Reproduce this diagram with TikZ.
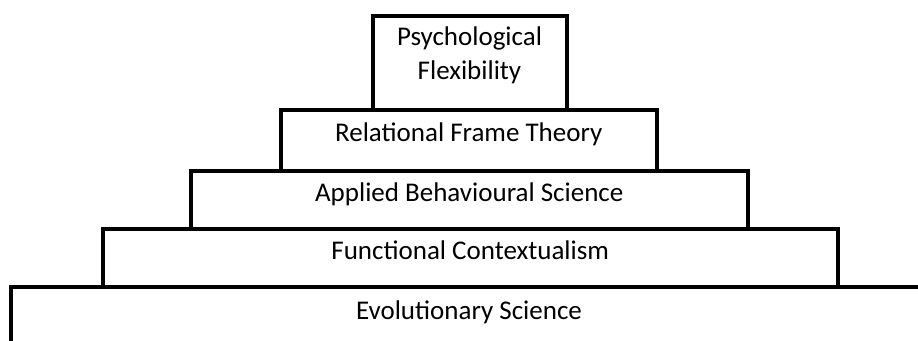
\documentclass[tikz,border=0pt]{standalone}
\usepackage{fontspec}
\setmainfont{Carlito}
\begin{document}
\begin{tikzpicture}[x=1pt,y=-1pt,
  tier/.style={draw=black, line width=4pt, rectangle, inner sep=0pt, outer sep=0pt, anchor=north west},
  lbl/.style={font=\fontsize{27}{33.3}\selectfont, align=center, inner sep=0pt, anchor=base}]
  \useasboundingbox (0,0) rectangle (918,340);
  \clip (0,0) rectangle (918,340);
  % stacked tiers, widest at the bottom
  \node[tier, minimum width=960, minimum height=100] (evo) at (11,287) {};
  \node[tier, minimum width=735.5, minimum height=58] (fc) at (102.5,229) {};
  \node[tier, minimum width=556.5, minimum height=58] (abs) at (191,171) {};
  \node[tier, minimum width=375.5, minimum height=61] (rft) at (281,110) {};
  \node[tier, minimum width=194, minimum height=94] (psy) at (372.5,16) {};
  % tier labels (base anchor sits on the last line's baseline)
  \node[lbl] (psyt) at (469.5,79) {Psychological\\Flexibility};
  \node[lbl] (rftt) at ([yshift=-31]rft.north) {Relational Frame Theory};
  \node[lbl] (abst) at ([yshift=-30]abs.north) {Applied Behavioural Science};
  \node[lbl] (fct) at ([yshift=-30]fc.north) {Functional Contextualism};
  \node[lbl] (evot) at (469,319) {Evolutionary Science};
\end{tikzpicture}
\end{document}
